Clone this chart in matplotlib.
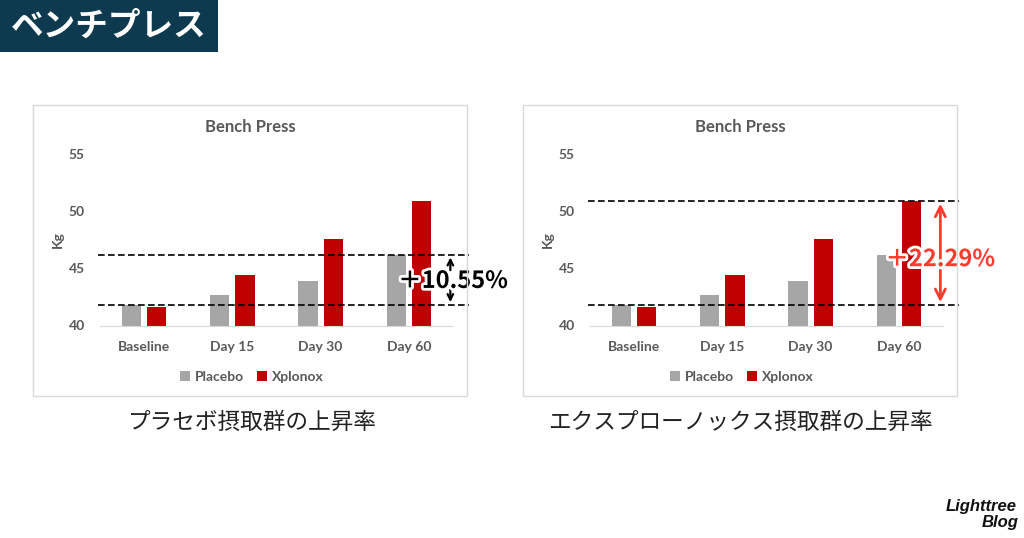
import numpy as np
import matplotlib
matplotlib.use("Agg")
import matplotlib.pyplot as plt
import matplotlib.patheffects as pe
from matplotlib.patches import Rectangle

# data
days = ["Baseline", "Day 15", "Day 30", "Day 60"]
placebo = [41.8, 42.7, 43.9, 46.2]
xplonox = [41.6, 44.4, 47.6, 50.9]
yticks = [40, 45, 50, 55]
gain_placebo = "＋10.55%"
gain_xplonox = "＋22.29%"
captions = ["プラセボ摂取群の上昇率", "エクスプローノックス摂取群の上昇率"]
page_title = "ベンチプレス"

W, H = 1024, 538
GREY = "#a6a6a6"
RED = "#c00000"
TXT = "#595959"
JP = ["Noto Sans CJK JP", "DejaVu Sans"]
CHART_FONT = "Lato"


def fx(px):
    return px / W


def fy(py):
    return 1 - py / H


fig = plt.figure(figsize=(W / 100, H / 100), dpi=100)
fig.patch.set_facecolor("white")

# title block top left
fig.patches.append(Rectangle((0, fy(52)), fx(218), 52 / H, transform=fig.transFigure,
                             facecolor="#0e3a50", edgecolor="none"))
fig.text(fx(109), fy(26), page_title, color="white", fontsize=23.5, fontweight="bold",
         family=JP, ha="center", va="center")


def draw_chart(x_off, hi_val):
    # light frame around chart
    fig.patches.append(Rectangle((fx(x_off + 3), fy(396)), fx(434), 291 / H,
                                 transform=fig.transFigure, facecolor="none",
                                 edgecolor="#d9d9d9", lw=1, zorder=0))
    ax = fig.add_axes([fx(x_off + 70), fy(325.5), fx(353), (325.5 - 154) / H])
    x = np.arange(len(days))
    w = 0.22
    ax.bar(x - 0.143, placebo, w, color=GREY, label="Placebo", zorder=2)
    ax.bar(x + 0.143, xplonox, w, color=RED, label="Xplonox", zorder=2)
    ax.set_xlim(-0.5, 3.5)
    ax.set_ylim(40, 55)
    ax.set_yticks(yticks)
    ax.set_xticks(x)
    ax.set_xticklabels(days)
    for s in ["top", "right", "left"]:
        ax.spines[s].set_visible(False)
    ax.spines["bottom"].set_color("#d9d9d9")
    ax.tick_params(length=0, colors=TXT, labelsize=10)
    ax.tick_params(axis="y", pad=11)
    ax.tick_params(axis="x", pad=11)
    for lab in ax.get_xticklabels() + ax.get_yticklabels():
        lab.set_family(CHART_FONT)
        lab.set_fontweight("bold")
    ax.set_ylabel("Kg", color=TXT, fontsize=10, fontweight="bold", family=CHART_FONT, labelpad=3)
    ax.set_title("Bench Press", color=TXT, fontsize=12, fontweight="bold",
                 family=CHART_FONT, pad=16, x=0.425)
    ax.patch.set_alpha(0)
    leg = ax.legend(loc="upper center", bbox_to_anchor=(0.43, -0.19), ncol=2, frameon=False,
                    handlelength=0.7, handleheight=0.7, handletextpad=0.35, columnspacing=1.0,
                    prop={"family": CHART_FONT, "weight": "bold", "size": 10})
    for t in leg.get_texts():
        t.set_color(TXT)

    # dashed reference lines
    for yv in [placebo[0], hi_val]:
        ax.axhline(yv, xmin=-0.005, xmax=1.045, color="black", ls=(0, (4, 2)), lw=1.2,
                   clip_on=False, zorder=3)
    return ax


# left: placebo
axL = draw_chart(30, placebo[-1])
xa = 3.47
axL.annotate("", xy=(xa, placebo[-1]), xytext=(xa, placebo[-1] - 1.6),
             arrowprops=dict(arrowstyle="->", color="black", lw=1.6), annotation_clip=False)
axL.annotate("", xy=(xa, placebo[0]), xytext=(xa, placebo[0] + 1.6),
             arrowprops=dict(arrowstyle="->", color="black", lw=1.6), annotation_clip=False)
axL.text(xa + 0.03, (placebo[0] + placebo[-1]) / 2 - 0.1, gain_placebo, ha="center", va="center",
         fontsize=17, fontweight="bold", family=JP, color="black",
         path_effects=[pe.withStroke(linewidth=4, foreground="white")], zorder=5)
fig.text(fx(251), fy(422), captions[0], family=JP, fontsize=16.3, ha="center", va="center",
         color="#222222")

# right: xplonox
axR = draw_chart(520, xplonox[-1])
RED2 = "#ff3b30"
axR.annotate("", xy=(xa, xplonox[-1]), xytext=(xa, placebo[0]),
             arrowprops=dict(arrowstyle="<->", color=RED2, lw=2, mutation_scale=18),
             annotation_clip=False)
axR.text(xa, 45.8, gain_xplonox, ha="center", va="center",
         fontsize=17, fontweight="bold", family=JP, color=RED2,
         path_effects=[pe.withStroke(linewidth=4, foreground="white")], zorder=5)
fig.text(fx(740), fy(422), captions[1], family=JP, fontsize=16.3, ha="center", va="center",
         color="#222222")

# watermark
fig.text(fx(1017), fy(507), "Lighttree", ha="right", va="center", fontsize=12,
         fontweight="bold", style="italic", family="Liberation Sans", color="#111111")
fig.text(fx(1019), fy(523), "Blog", ha="right", va="center", fontsize=12,
         fontweight="bold", style="italic", family="Liberation Sans", color="#111111")

fig.savefig("out.png", dpi=100, facecolor="white")
